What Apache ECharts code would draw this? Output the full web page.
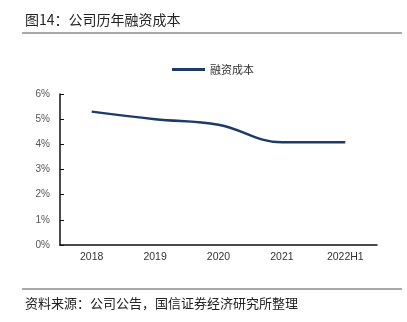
<!DOCTYPE html>
<html><head><meta charset="utf-8">
<script src="https://cdn.jsdelivr.net/npm/echarts@6/dist/echarts.min.js"></script>
<style>html,body{margin:0;padding:0;background:#fff}#c{width:407px;height:322px}</style>
</head><body><div id="c"></div>
<script>
var categories = ['2018', '2019', '2020', '2021', '2022H1'];
var financingCost = [5.3, 5.0, 4.78, 4.08, 4.08];
var seriesName = '融资成本';
var yTicks = [0, 1, 2, 3, 4, 5, 6];

var chart = echarts.init(document.getElementById('c'), null, {renderer: 'canvas'});
var font = '"Noto Sans CJK SC", sans-serif';
var numFont = '"Liberation Sans", Arial, sans-serif';
chart.setOption({
  animation: false,
  backgroundColor: '#fff',
  title: [
    {text: '图14：公司历年融资成本', left: 20, top: 8, textStyle: {fontFamily: font, fontSize: 14, fontWeight: 'normal', color: '#222'}},
    {text: '资料来源：公司公告，国信证券经济研究所整理', left: 20, top: 292, textStyle: {fontFamily: font, fontSize: 13, fontWeight: 'normal', color: '#222'}}
  ],
  graphic: [
    {type: 'line', shape: {x1: 22, y1: 33, x2: 402, y2: 33}, style: {stroke: '#555', lineWidth: 1.2}},
    {type: 'line', shape: {x1: 22, y1: 289, x2: 402, y2: 289}, style: {stroke: '#555', lineWidth: 1.2}}
  ],
  legend: {
    top: 59, left: 167, itemWidth: 33, itemHeight: 3, itemGap: 5,
    icon: 'rect',
    textStyle: {fontFamily: font, fontSize: 11, color: '#333'},
    data: [seriesName]
  },
  grid: {left: 60, right: 30, top: 94, bottom: 77},
  xAxis: {
    type: 'category', data: categories, boundaryGap: true,
    axisLine: {lineStyle: {color: '#111', width: 1.5}},
    axisTick: {inside: true, length: 4, lineStyle: {color: '#111'}},
    axisLabel: {fontFamily: numFont, fontSize: 10.5, color: '#333', margin: 7}
  },
  yAxis: {
    type: 'value', min: 0, max: 6, interval: 1,
    axisLine: {show: true, lineStyle: {color: '#111', width: 1.5}},
    axisTick: {show: true, inside: true, length: 4, lineStyle: {color: '#111'}},
    splitLine: {show: false},
    axisLabel: {fontFamily: numFont, fontSize: 10, color: '#555', margin: 10, formatter: function(v){return v + '%';}}
  },
  series: [{
    name: seriesName, type: 'line', data: financingCost, smooth: 0.4,
    symbol: 'none', lineStyle: {color: '#1c3a6b', width: 2.5}, itemStyle: {color: '#1c3a6b'}
  }]
});
</script></body></html>
